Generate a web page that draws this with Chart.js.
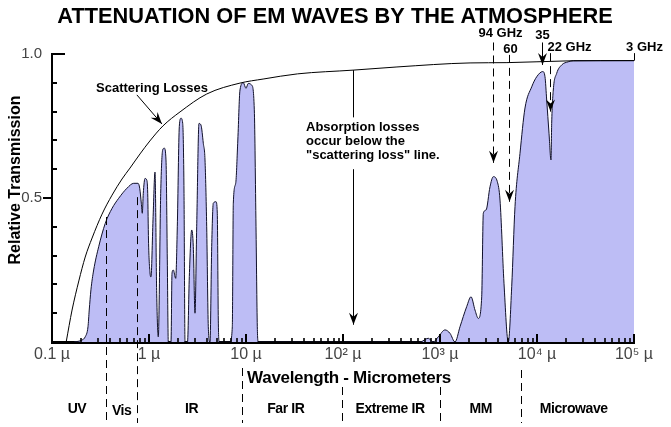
<!DOCTYPE html>
<html>
<head>
<meta charset="utf-8">
<script src="https://cdn.jsdelivr.net/npm/chart.js@4"></script>
<style>
  html, body { margin: 0; padding: 0; background: #fff; }
</style>
</head>
<body>
<canvas id="chart" width="671" height="427"></canvas>
<script>
// wavelength in micrometres, values are relative transmission (0..1)
var scatterWl  = [0.14, 0.161, 0.189, 0.22, 0.259, 0.328, 0.416, 0.527, 0.637, 0.808, 1.02, 1.39, 2.09, 3.93, 8.67, 15, 34, 127, 360, 2040, 4900, 20400, 100000];
var scatterVal = [0, 0.111, 0.212, 0.295, 0.361, 0.444, 0.51, 0.566, 0.604, 0.653, 0.698, 0.75, 0.799, 0.861, 0.899, 0.913, 0.931, 0.944, 0.955, 0.969, 0.97, 0.976, 0.977];

var absorbWl = [0.169, 0.204, 0.22, 0.235, 0.242, 0.252, 0.269, 0.303, 0.354, 0.416,
  0.487, 0.593, 0.696, 0.77, 0.802, 0.833, 0.853, 0.873, 0.91, 0.947,
  0.97, 0.988, 1.024, 1.048, 1.1, 1.153, 1.2, 1.247, 1.32, 1.384,
  1.438, 1.497, 1.544, 1.581, 1.686, 1.727, 1.781, 1.885, 1.958, 2.053,
  2.138, 2.226, 2.296, 2.351, 2.494, 2.604, 2.756, 2.862, 2.98, 3.103,
  3.277, 3.436, 3.63, 3.779, 3.934, 4.086, 4.255, 4.43, 4.601, 4.906,
  5.059, 5.181, 5.305, 6.84, 7.225, 7.398, 7.831, 8.211, 8.67, 9.38,
  10.0, 10.56, 11.45, 12.18, 12.68, 13.08, 13.39,
  622, 757, 853, 960, 1126, 1268, 1428, 1608, 1885, 2088,
  2295, 2482, 2692, 2796, 2981, 3277, 3544, 3897, 4156, 4568,
  5059, 5486, 5932, 6677, 7520, 8820, 9930, 11450, 12090, 12590,
  13300, 13940, 14170, 14720, 15960, 17970, 21020, 23670, 100000];
var absorbVal = [0, 0.007, 0.018, 0.053, 0.111, 0.181, 0.25, 0.331, 0.412, 0.464,
  0.499, 0.534, 0.551, 0.551, 0.534, 0.482, 0.447, 0.516, 0.568, 0.563,
  0.516, 0.354, 0.24, 0.226, 0.424, 0.59, 0.169, 0.018, 0.516, 0.667,
  0.673, 0.632, 0.285, 0, 0, 0.239, 0.25, 0.221, 0.4, 0.748,
  0.777, 0.759, 0.516, 0, 0, 0.227, 0.389, 0.331, 0.1, 0.4,
  0.759, 0.753, 0.69, 0.632, 0.4, 0.053, 0, 0.331, 0.482, 0.487,
  0.447, 0.076, 0, 0, 0.053, 0.482, 0.551, 0.69, 0.875, 0.9,
  0.881, 0.898, 0.892, 0.806, 0.4, 0.053, 0,
  0, 0.013, 0, 0.018, 0.042, 0.03, 0, 0.053, 0.123, 0.157,
  0.111, 0.082, 0.157, 0.447, 0.458, 0.539, 0.574, 0.557, 0.493, 0.204,
  0, 0.192, 0.47, 0.655, 0.8125, 0.886, 0.921, 0.939, 0.921, 0.84,
  0.725, 0.632, 0.759, 0.875, 0.933, 0.962, 0.973, 0.977, 0.977];

var decadeWl = [0.1, 1, 10, 100, 1000, 10000, 100000];
var decadeLabels = ['0.1 µ', '1 µ', '10 µ', '10² µ', '10³ µ', '10⁴ µ', '10⁵ µ'];
var yTicks = [0.1, 0.2, 0.3, 0.4, 0.5, 0.6, 0.7, 0.8, 0.9, 1.0];

var bandNames = ['UV', 'Vis', 'IR', 'Far IR', 'Extreme IR', 'MM', 'Microwave'];
var bandEdges = [0.36, 0.76, 9, 98, 1000, 6900];

var freqLabels = ['94 GHz', '60', '35', '22 GHz', '3 GHz'];
var freqWl = [3490, 5180, 11200, 13600, 100000];

var FONT = "'Liberation Sans', Arial, sans-serif";
var NARROW = "'Liberation Sans Narrow', 'Liberation Sans', Arial, sans-serif";

function toPoints(xs, ys) {
  return xs.map(function(x, i) { return { x: x, y: ys[i] }; });
}

function arrowHead(ctx, x, y, ang) {
  ctx.save();
  ctx.translate(x, y);
  ctx.rotate(ang);
  ctx.beginPath();
  ctx.moveTo(0, 0);
  ctx.lineTo(-12, -4.5);
  ctx.lineTo(-8, 0);
  ctx.lineTo(-12, 4.5);
  ctx.closePath();
  ctx.fill();
  ctx.restore();
}

function arrow(ctx, x1, y1, x2, y2, dash) {
  ctx.save();
  ctx.setLineDash(dash || []);
  ctx.beginPath();
  ctx.moveTo(x1, y1);
  ctx.lineTo(x2, y2);
  ctx.stroke();
  ctx.restore();
  arrowHead(ctx, x2, y2, Math.atan2(y2 - y1, x2 - x1));
}

function vline(ctx, x, y1, y2, dash) {
  ctx.save();
  ctx.setLineDash(dash || []);
  ctx.beginPath();
  ctx.moveTo(x, y1);
  ctx.lineTo(x, y2);
  ctx.stroke();
  ctx.restore();
}

var overlay = {
  id: 'overlay',
  afterDatasetsDraw: function(chart) {
    var ctx = chart.ctx, xs = chart.scales.x, ys = chart.scales.y;
    var base = ys.getPixelForValue(0);
    var left = chart.chartArea.left;
    ctx.save();
    ctx.strokeStyle = '#000';
    ctx.fillStyle = '#000';

    // inward ticks along the wavelength axis
    for (var d = 0; d < decadeWl.length - 1; d++) {
      for (var m = 2; m <= 10; m++) {
        var px = Math.round(xs.getPixelForValue(decadeWl[d] * m));
        var h = m === 10 ? 8 : 4;
        ctx.lineWidth = m === 10 ? 2 : 1.6;
        ctx.beginPath();
        ctx.moveTo(px, base);
        ctx.lineTo(px, base - h);
        ctx.stroke();
      }
    }

    // ticks on the transmission axis
    ctx.lineWidth = 2;
    yTicks.forEach(function(v) {
      var py = Math.round(ys.getPixelForValue(v));
      var x1 = left, x2 = left + 5;
      if (v === 0.5) { x1 = left - 9; x2 = left; }
      if (v === 1.0) { x2 = left + 13; }
      ctx.beginPath();
      ctx.moveTo(x1, py);
      ctx.lineTo(x2, py);
      ctx.stroke();
    });

    // band boundaries
    ctx.lineWidth = 1;
    var dash = [8, 5];
    var tops = [ys.getPixelForValue(0.434), ys.getPixelForValue(0.503), 368, 387, 387, 370];
    bandEdges.forEach(function(w, i) {
      var x = Math.round(xs.getPixelForValue(w)) + 0.5;
      vline(ctx, x, tops[i], 423, dash);
    });

    // band names
    ctx.font = 'bold 14px ' + FONT;
    ctx.letterSpacing = '-0.4px';
    ctx.textAlign = 'center';
    ctx.textBaseline = 'middle';
    var edges = [0.1].concat(bandEdges, [100000]);
    var nudge = [-2, 0, 2, -6, -1, 0, -4];
    bandNames.forEach(function(n, i) {
      var x = (xs.getPixelForValue(edges[i]) + xs.getPixelForValue(edges[i + 1])) / 2 + nudge[i];
      ctx.fillText(n, x, n === 'Vis' ? 411 : 409);
    });
    ctx.letterSpacing = '0px';

    // scattering losses label and arrow
    ctx.font = 'bold 13px ' + FONT;
    ctx.textAlign = 'left';
    ctx.fillText('Scattering Losses', 96, 88);
    arrow(ctx, xs.getPixelForValue(0.75), ys.getPixelForValue(0.858),
      xs.getPixelForValue(1.36), ys.getPixelForValue(0.757));

    // absorption note
    ctx.fillText('Absorption losses', 306, 127);
    ctx.fillText('occur below the', 306, 141);
    ctx.fillText('"scattering loss" line.', 306, 155);
    var ax = Math.round(xs.getPixelForValue(128)) + 0.5;
    vline(ctx, ax, ys.getPixelForValue(0.944), ys.getPixelForValue(0.78));
    arrow(ctx, ax, ys.getPixelForValue(0.6), ax, ys.getPixelForValue(0.06));

    // frequency markers
    var fx = freqWl.map(function(w) { return Math.round(xs.getPixelForValue(w)) + 0.5; });
    arrow(ctx, fx[0], ys.getPixelForValue(1.04), fx[0], ys.getPixelForValue(0.622), dash);
    arrow(ctx, fx[1], ys.getPixelForValue(0.997), fx[1], ys.getPixelForValue(0.487), dash);
    arrow(ctx, fx[2], ys.getPixelForValue(1.04), fx[2], ys.getPixelForValue(0.962));
    arrow(ctx, fx[3], ys.getPixelForValue(1.003), fx[3], ys.getPixelForValue(0.8), dash);
    vline(ctx, fx[4], ys.getPixelForValue(1.003), ys.getPixelForValue(0.977));

    ctx.textAlign = 'center';
    ctx.fillText(freqLabels[0], fx[0] + 7, 33);
    ctx.fillText(freqLabels[1], fx[1] + 1, 49);
    ctx.fillText(freqLabels[2], fx[2], 35);
    ctx.textAlign = 'left';
    ctx.fillText(freqLabels[3], fx[3] - 3, 47);
    ctx.textAlign = 'center';
    ctx.fillText(freqLabels[4], fx[4] + 10, 47);

    // titles
    ctx.font = 'bold 21.8px ' + FONT;
    ctx.fillText('ATTENUATION OF EM WAVES BY THE ATMOSPHERE', 335, 17);
    ctx.font = 'bold 17px ' + FONT;
    ctx.letterSpacing = '-0.3px';
    ctx.fillText('Wavelength - Micrometers', 349, 378);
    ctx.letterSpacing = '0px';
    ctx.font = 'bold 16px ' + FONT;
    ctx.save();
    ctx.translate(16, 180);
    ctx.rotate(-Math.PI / 2);
    ctx.fillText('Relative Transmission', 0, 0);
    ctx.restore();

    ctx.restore();
  }
};

Chart.defaults.font.family = FONT;

new Chart(document.getElementById('chart'), {
  type: 'line',
  data: {
    datasets: [{
      label: 'Scattering Losses',
      data: toPoints(scatterWl, scatterVal),
      borderColor: '#000',
      borderWidth: 1,
      pointRadius: 0,
      fill: false,
      cubicInterpolationMode: 'monotone',
      order: 0
    }, {
      label: 'Transmission',
      data: toPoints(absorbWl, absorbVal),
      borderColor: '#10102a',
      borderWidth: 1,
      backgroundColor: '#bdbdf5',
      pointRadius: 0,
      fill: 'origin',
      cubicInterpolationMode: 'monotone',
      order: 1
    }]
  },
  options: {
    responsive: false,
    animation: false,
    layout: { padding: { left: 0, top: 54, right: 37, bottom: 55 } },
    plugins: { legend: { display: false }, tooltip: { enabled: false }, title: { display: false } },
    scales: {
      x: {
        type: 'logarithmic',
        min: 0.1,
        max: 100000,
        afterBuildTicks: function(s) {
          s.ticks = decadeWl.map(function(v) { return { value: v }; });
        },
        afterFit: function(s) { s.height = 30; },
        ticks: {
          autoSkip: false,
          maxRotation: 0,
          padding: 3,
          color: '#444',
          font: { size: 16, family: NARROW },
          callback: function(v, i) { return decadeLabels[i]; }
        },
        grid: { display: false, drawTicks: false },
        border: { display: true, color: '#000', width: 3 }
      },
      y: {
        type: 'linear',
        min: 0,
        max: 1,
        afterFit: function(s) { s.width = 52; },
        ticks: {
          stepSize: 0.1,
          padding: 10,
          color: '#444',
          font: { size: 15, family: NARROW },
          callback: function(v) {
            if (Math.abs(v - 0.5) < 1e-6) return '0.5';
            if (Math.abs(v - 1) < 1e-6) return '1.0';
            return '';
          }
        },
        grid: { display: false, drawTicks: false },
        border: { display: true, color: '#000', width: 2 }
      }
    }
  },
  plugins: [overlay]
});
</script>
</body>
</html>
